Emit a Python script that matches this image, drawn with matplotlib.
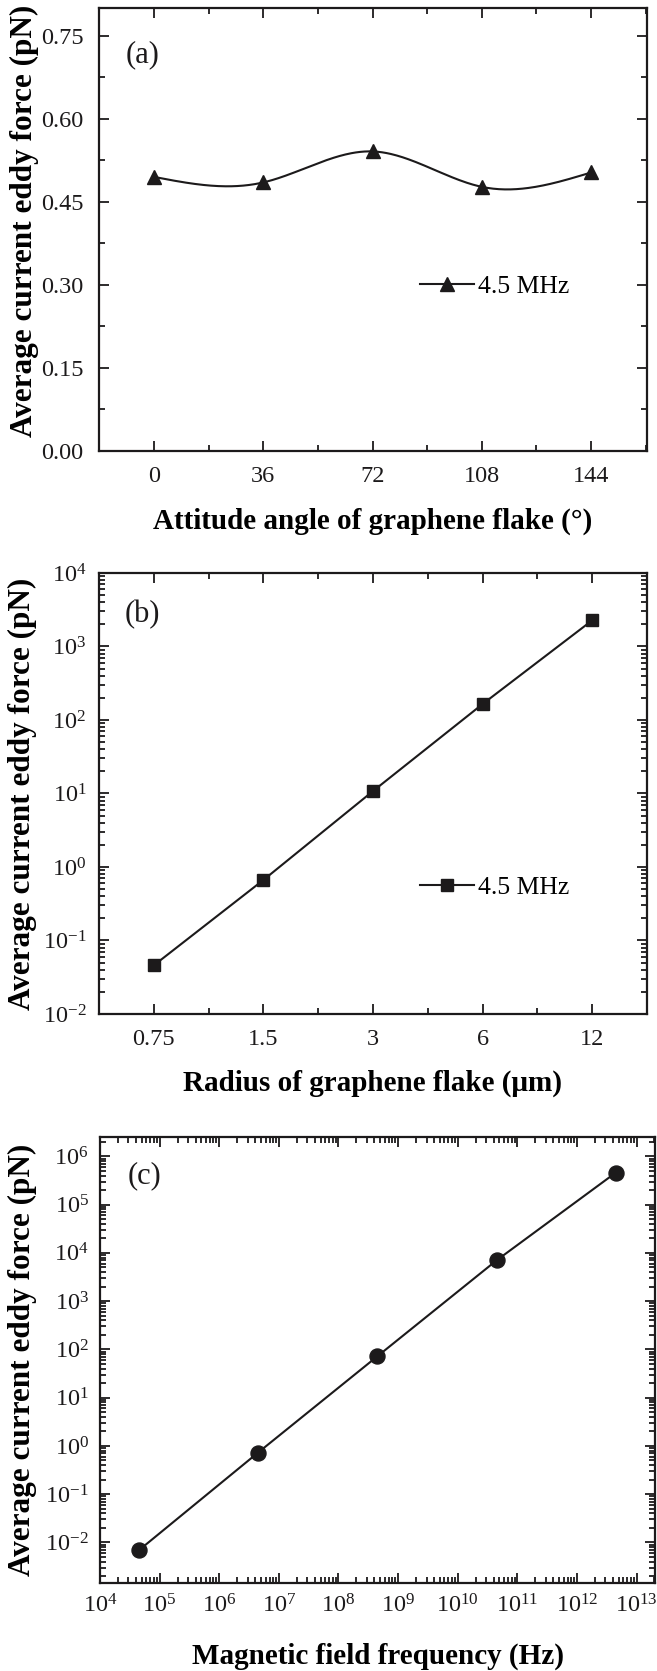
import numpy as np
import matplotlib
matplotlib.use('Agg')
import matplotlib.pyplot as plt
from matplotlib.ticker import FixedLocator, MultipleLocator, LogLocator, NullFormatter, FuncFormatter

plt.rcParams['font.family'] = ['Liberation Serif', 'DejaVu Serif']
plt.rcParams['mathtext.fontset'] = 'custom'
plt.rcParams['mathtext.rm'] = 'Liberation Serif'
plt.rcParams['mathtext.it'] = 'Liberation Serif:italic'
plt.rcParams['mathtext.bf'] = 'Liberation Serif:bold'

# (a) force vs attitude angle
angle = [0, 36, 72, 108, 144]
force_a = [0.495, 0.485, 0.541, 0.477, 0.503]

# (b) force vs radius
radius = [0.75, 1.5, 3, 6, 12]
radius_labels = ['0.75', '1.5', '3', '6', '12']
force_b = [0.046, 0.667, 10.8, 165, 2270]

# (c) force vs frequency
freq = [4.5e4, 4.5e6, 4.5e8, 4.5e10, 4.5e12]
force_c = [0.0069, 0.73, 72, 7000, 4.6e5]

ink = '#1c1a1b'
tick_fs = 17.5
leg_fs = 18.5
xlab_fs = 21
ylab_fs = 22.5
panel_fs = 22


def natural_spline(x, y, n=300):
    # smooth connecting line, like Origin's spline
    x = np.asarray(x, float)
    y = np.asarray(y, float)
    k = len(x)
    h = np.diff(x)
    A = np.zeros((k, k))
    b = np.zeros(k)
    A[0, 0] = A[-1, -1] = 1
    for i in range(1, k - 1):
        A[i, i - 1] = h[i - 1]
        A[i, i] = 2 * (h[i - 1] + h[i])
        A[i, i + 1] = h[i]
        b[i] = 6 * ((y[i + 1] - y[i]) / h[i] - (y[i] - y[i - 1]) / h[i - 1])
    M = np.linalg.solve(A, b)
    xs = np.linspace(x[0], x[-1], n)
    idx = np.clip(np.searchsorted(x, xs) - 1, 0, k - 2)
    t0 = x[idx]
    t1 = x[idx + 1]
    hh = t1 - t0
    ys = (M[idx] * (t1 - xs) ** 3 / (6 * hh) + M[idx + 1] * (xs - t0) ** 3 / (6 * hh)
          + (y[idx] / hh - M[idx] * hh / 6) * (t1 - xs)
          + (y[idx + 1] / hh - M[idx + 1] * hh / 6) * (xs - t0))
    return xs, ys


def pow10(v, pos):
    if v <= 0:
        return ''
    e = int(round(np.log10(v)))
    return r'$\mathregular{10^{%d}}$' % e


def style(ax, xpad=11, ypad=11):
    for s in ax.spines.values():
        s.set_linewidth(1.6)
        s.set_color(ink)
    ax.tick_params(which='both', direction='in', top=True, right=True, colors=ink,
                   labelsize=tick_fs, width=1.3)
    ax.tick_params(which='major', length=7.2)
    ax.tick_params(which='minor', length=4)
    ax.tick_params(axis='x', pad=xpad)
    ax.tick_params(axis='y', pad=ypad)


fig = plt.figure(figsize=(6.57, 16.71), dpi=100)
W, H = 657, 1671


def add_axes(l, r, t, b):
    return fig.add_axes([l / W, 1 - b / H, (r - l) / W, (b - t) / H])


# ---- (a)
ax1 = add_axes(99, 647, 8, 451)
xs, ys = natural_spline(angle, force_a)
ax1.plot(xs, ys, color=ink, lw=1.5)
ax1.plot(angle, force_a, ls='none', marker='^', ms=10.5, color=ink)
ax1.plot([], [], color=ink, lw=1.5, marker='^', ms=10.5, label='4.5 MHz')
ax1.set_xlim(-18.1, 162.4)
ax1.set_ylim(0, 0.80)
ax1.set_xticks(angle)
ax1.xaxis.set_minor_locator(MultipleLocator(18))
ax1.yaxis.set_major_locator(FixedLocator([0, 0.15, 0.30, 0.45, 0.60, 0.75]))
ax1.yaxis.set_minor_locator(MultipleLocator(0.075))
ax1.yaxis.set_major_formatter(FuncFormatter(lambda v, p: '%.2f' % v))
style(ax1)
ax1.set_xlabel('Attitude angle of graphene flake (°)', fontsize=xlab_fs, fontweight='bold')
ax1.set_ylabel('Average current eddy force (pN)', fontsize=ylab_fs, fontweight='bold')
ax1.text(0.08, 0.894, '(a)', transform=ax1.transAxes, fontsize=panel_fs,
         ha='center', va='center', color=ink)
ax1.legend(loc='center left', bbox_to_anchor=(0.586, 0.372), frameon=False, fontsize=leg_fs,
           handlelength=2.1, handletextpad=0.15, borderpad=0, borderaxespad=0)

# ---- (b)
ax2 = add_axes(99, 647, 573, 1014)
ax2.set_xscale('log', base=2)
ax2.set_yscale('log')
ax2.plot(radius, force_b, color=ink, lw=1.5, marker='s', ms=9, label='4.5 MHz')
ax2.set_xlim(0.53, 16.97)
ax2.set_ylim(1e-2, 1e4)
ax2.set_xticks(radius, labels=radius_labels)
r = np.array(radius)
ax2.xaxis.set_minor_locator(FixedLocator(np.sqrt(r[:-1] * r[1:])))
ax2.xaxis.set_minor_formatter(NullFormatter())
ax2.yaxis.set_major_locator(LogLocator(base=10, numticks=20))
ax2.yaxis.set_minor_locator(LogLocator(base=10, subs=np.arange(2, 10), numticks=20))
ax2.yaxis.set_major_formatter(FuncFormatter(pow10))
ax2.yaxis.set_minor_formatter(NullFormatter())
style(ax2, ypad=9)
ax2.set_xlabel('Radius of graphene flake (μm)', fontsize=xlab_fs, fontweight='bold')
ax2.set_ylabel('Average current eddy force (pN)', fontsize=ylab_fs, fontweight='bold')
ax2.text(0.08, 0.905, '(b)', transform=ax2.transAxes, fontsize=panel_fs,
         ha='center', va='center', color=ink)
ax2.legend(loc='center left', bbox_to_anchor=(0.586, 0.286), frameon=False, fontsize=leg_fs,
           handlelength=2.1, handletextpad=0.15, borderpad=0, borderaxespad=0)

# ---- (c)
ax3 = add_axes(100, 655, 1137, 1583)
ax3.set_xscale('log')
ax3.set_yscale('log')
ax3.plot(freq, force_c, color=ink, lw=1.5, marker='o', ms=10.8)
ax3.set_xlim(1e4, 10 ** 13.31)
ax3.set_ylim(10 ** -2.84, 10 ** 6.4)
for axis in (ax3.xaxis, ax3.yaxis):
    axis.set_major_locator(LogLocator(base=10, numticks=20))
    axis.set_minor_locator(LogLocator(base=10, subs=np.arange(2, 10), numticks=30))
    axis.set_major_formatter(FuncFormatter(pow10))
    axis.set_minor_formatter(NullFormatter())
style(ax3, xpad=8, ypad=8)
ax3.set_xlabel('Magnetic field frequency (Hz)', fontsize=xlab_fs, fontweight='bold')
ax3.set_ylabel('Average current eddy force (pN)', fontsize=ylab_fs, fontweight='bold')
ax3.text(0.08, 0.913, '(c)', transform=ax3.transAxes, fontsize=panel_fs,
         ha='center', va='center', color=ink)

ax1.yaxis.set_label_coords(-0.11, 0.52)
ax2.yaxis.set_label_coords(-0.113, 0.5)
ax3.yaxis.set_label_coords(-0.114, 0.5)
ax1.xaxis.set_label_coords(0.5, -0.129)
ax2.xaxis.set_label_coords(0.5, -0.127)
ax3.xaxis.set_label_coords(0.5, -0.134)

fig.savefig('out.png', dpi=100)
